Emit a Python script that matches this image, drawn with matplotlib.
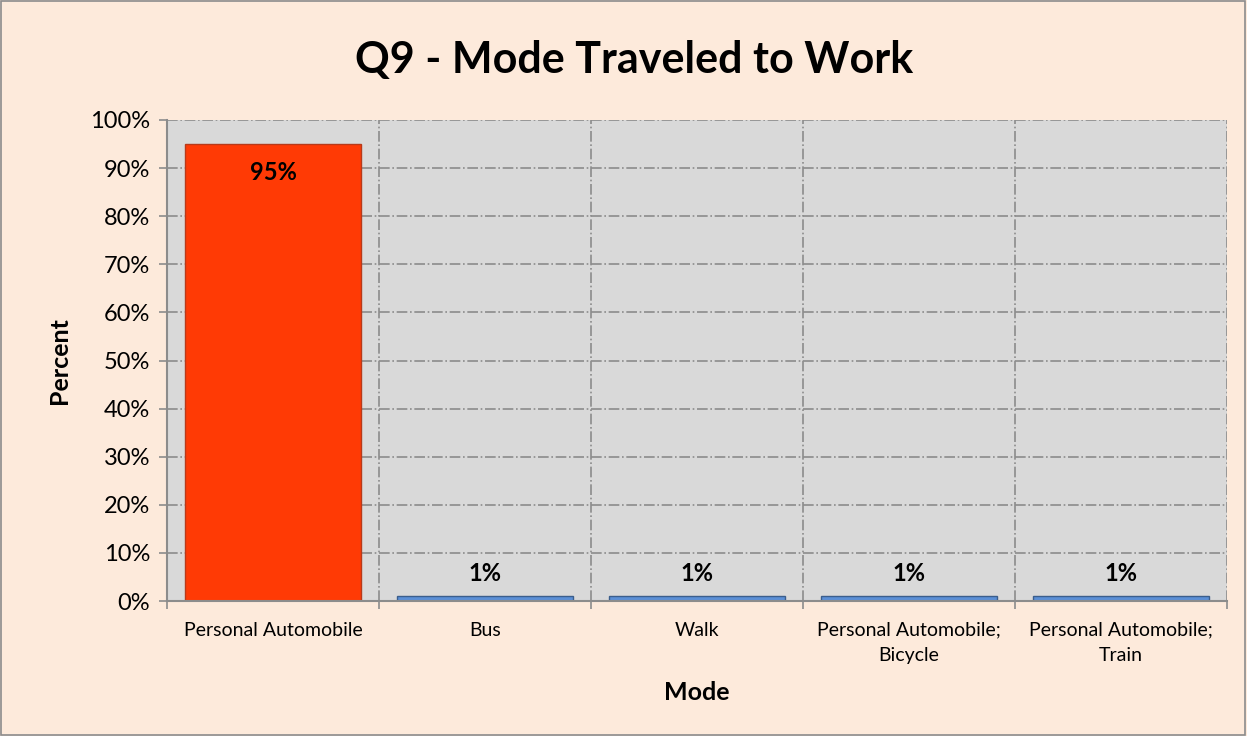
import matplotlib
matplotlib.use("Agg")
import matplotlib.pyplot as plt
from matplotlib.patches import Rectangle
import numpy as np

categories = ["Personal Automobile", "Bus", "Walk", "Personal Automobile;\nBicycle", "Personal Automobile;\nTrain"]
values = [95, 1, 1, 1, 1]
labels = ["95%", "1%", "1%", "1%", "1%"]
colors = ["#FF3A05", "#5B8FD6", "#5B8FD6", "#5B8FD6", "#5B8FD6"]
edges = ["#B83A1A", "#3B5E8C", "#3B5E8C", "#3B5E8C", "#3B5E8C"]
yticks = list(range(0, 101, 10))

plt.rcParams['font.family'] = ['Lato', 'DejaVu Sans']

bg = "#FDEADB"
fig = plt.figure(figsize=(12.47, 7.36), dpi=100, facecolor=bg)
fig.patches.append(Rectangle((0.001, 0.001), 0.997, 0.997, transform=fig.transFigure,
                             fill=False, edgecolor="#8C8C8C", linewidth=1.2))
ax = fig.add_axes([167/1247, 1-601/736, (1227-167)/1247, (601-120)/736])
ax.set_facecolor("#D9D9D9")

x = np.arange(len(categories))
ax.bar(x, values, width=0.83, color=colors, edgecolor=edges, linewidth=1.0, zorder=3)

for xi, v, lab in zip(x, values, labels):
    if v > 50:
        ax.text(xi, v - 3.5, lab, ha="center", va="top", fontsize=17, fontweight="bold", zorder=4)
    else:
        ax.text(xi, v + 2.3, lab, ha="center", va="bottom", fontsize=17, fontweight="bold", zorder=4)

ax.set_xlim(-0.5, len(categories) - 0.5)
ax.set_ylim(0, 100)
ax.set_yticks(yticks)
ax.set_yticklabels([f"{t}%" for t in yticks], fontsize=17)
ax.set_xticks(x)
ax.set_xticklabels(categories, fontsize=14, linespacing=1.6)
ax.tick_params(axis="x", which="major", length=0, pad=15)
ax.set_xticks(np.arange(-0.5, len(categories)), minor=True)
ax.tick_params(axis="x", which="minor", length=6, color="#8C8C8C", width=1.2)
ax.tick_params(axis="y", length=6, color="#8C8C8C", width=1.2, direction="out", pad=6)

ax.grid(axis="y", which="major", color="#8C8C8C", linestyle="-.", linewidth=1.2, zorder=0)
ax.grid(axis="x", which="minor", color="#8C8C8C", linestyle="-.", linewidth=1.2, zorder=0)
ax.grid(axis="x", which="major", visible=False)
ax.set_axisbelow(True)

for s in ["top", "right"]:
    ax.spines[s].set_visible(False)
for s in ["left", "bottom"]:
    ax.spines[s].set_color("#8C8C8C")
    ax.spines[s].set_linewidth(1.5)
    ax.spines[s].set_zorder(5)

ax.set_ylabel("Percent", fontsize=18, fontweight="bold", labelpad=14)
ax.set_xlabel("Mode", fontsize=18, fontweight="bold", labelpad=12)
fig.text(634/1247, 1-60/736, "Q9 - Mode Traveled to Work", ha="center", va="center",
         fontsize=31, fontweight="bold")

fig.savefig("out.png", dpi=100, facecolor=bg)
